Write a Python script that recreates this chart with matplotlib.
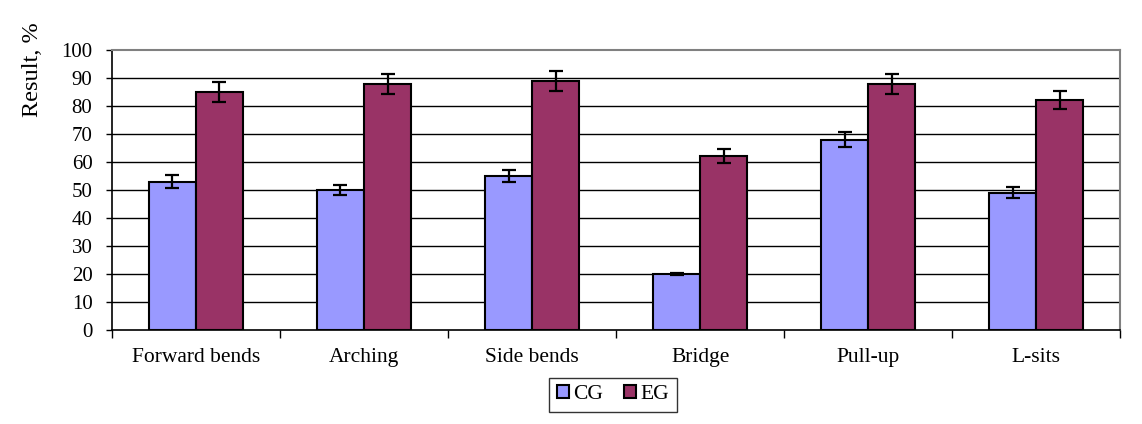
import numpy as np
import matplotlib
matplotlib.use("Agg")
import matplotlib.pyplot as plt

plt.rcParams['font.family'] = ['Liberation Serif', 'DejaVu Serif']

categories = ['Forward bends', 'Arching', 'Side bends', 'Bridge', 'Pull-up', 'L-sits']
cg = [53, 50, 55, 20, 68, 49]
eg = [85, 88, 89, 62, 88, 82]
cg_err = [2.2, 1.9, 2.2, 0.5, 2.7, 2.0]
eg_err = [3.4, 3.6, 3.6, 2.5, 3.6, 3.2]

fig = plt.figure(figsize=(11.42, 4.24), dpi=100)
ax = fig.add_axes([0.098, 0.222, 0.883, 0.66])

x = np.arange(len(categories))
w = 0.28
ekw = dict(elinewidth=1.6, capthick=1.6, ecolor='black')
ax.bar(x - w / 2, cg, w, yerr=cg_err, capsize=5, color='#9999FF', edgecolor='black',
       linewidth=1.5, label='CG', error_kw=ekw, zorder=3)
ax.bar(x + w / 2, eg, w, yerr=eg_err, capsize=5, color='#993366', edgecolor='black',
       linewidth=1.5, label='EG', error_kw=ekw, zorder=3)

ax.set_xlim(-0.5, len(categories) - 0.5)
ax.set_ylim(0, 100)
ax.set_yticks(range(0, 101, 10))
ax.tick_params(axis='y', labelsize=15, direction='out', length=4.5, width=1, pad=9.5)
for yv in range(10, 100, 10):
    ax.axhline(yv, color='black', linewidth=1, zorder=1)

ax.set_xticks(x)
ax.set_xticklabels(categories, fontsize=15.5)
ax.tick_params(axis='x', length=0, pad=13)
ax.set_xticks(np.arange(-0.5, len(categories)), minor=True)
ax.tick_params(axis='x', which='minor', length=6, width=1, direction='out')

ax.set_ylabel('Result, %', fontsize=17.5)
ax.yaxis.set_label_coords(-0.068, 0.93)

for s in ['top', 'right']:
    ax.spines[s].set_color('#808080')
    ax.spines[s].set_linewidth(1.5)
for s in ['left', 'bottom']:
    ax.spines[s].set_color('black')
    ax.spines[s].set_linewidth(1.2)

leg = ax.legend(loc='upper center', bbox_to_anchor=(0.497, -0.133), ncol=2, fontsize=15.5,
                frameon=True, fancybox=False, edgecolor='black', handlelength=0.55,
                handleheight=0.55, handletextpad=0.2, columnspacing=1.0, borderpad=0.35)
leg.get_frame().set_linewidth(1)

fig.savefig('out.png', dpi=100)
